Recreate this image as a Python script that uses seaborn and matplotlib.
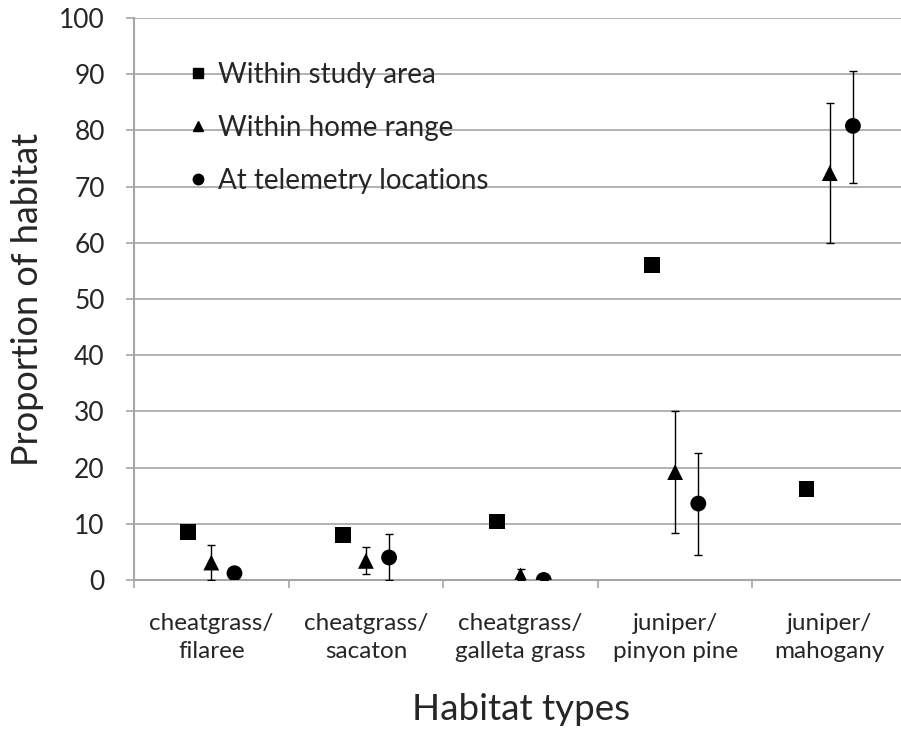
import numpy as np
import pandas as pd
import matplotlib
matplotlib.use("Agg")
import matplotlib.pyplot as plt
import seaborn as sns

# valeurs
habitats = ["cheatgrass/\nfilaree", "cheatgrass/\nsacaton", "cheatgrass/\ngalleta grass",
            "juniper/\npinyon pine", "juniper/\nmahogany"]
series = ["Within study area", "Within home range", "At telemetry locations"]

study_area = [8.6, 8.0, 10.4, 56.0, 16.2]

home_range = [3.1, 3.4, 0.8, 19.2, 72.4]
home_low = [0.0, 1.1, 0.0, 8.3, 60.0]
home_high = [6.3, 5.9, 1.9, 30.1, 84.8]

telemetry = [1.2, 4.0, 0.0, 13.6, 80.8]
telem_low = [0.4, 0.0, 0.0, 4.4, 70.6]
telem_high = [2.0, 8.2, 0.0, 22.6, 90.6]

markers = {"Within study area": "s", "Within home range": "^", "At telemetry locations": "o"}
offsets = {"Within study area": -0.15, "Within home range": 0.0, "At telemetry locations": 0.15}

rows = []
for name, vals in zip(series, [study_area, home_range, telemetry]):
    for i, v in enumerate(vals):
        rows.append({"serie": name, "idx": i, "x": i + offsets[name], "valeur": v})
df = pd.DataFrame(rows)

sns.set_style("white")
plt.rcParams["font.family"] = ["Lato", "DejaVu Sans"]

fig = plt.figure(figsize=(9.01, 7.31), dpi=100)
ax = fig.add_axes([0.1487, 0.2066, 1.0067 - 0.1487, 0.9754 - 0.2066])

# barres d'erreur
for name, vals, lo, hi in [("Within home range", home_range, home_low, home_high),
                           ("At telemetry locations", telemetry, telem_low, telem_high)]:
    v = np.array(vals)
    yerr = [v - np.array(lo), np.array(hi) - v]
    ax.errorbar(np.arange(len(v)) + offsets[name], v, yerr=yerr, fmt="none",
                ecolor="black", elinewidth=1.0, capsize=3, capthick=1.0, zorder=3)

sns.scatterplot(data=df, x="x", y="valeur", style="serie", markers=markers,
                style_order=series, color="black", s=130, edgecolor="black",
                linewidth=0, ax=ax, zorder=4, legend=False)

# légende
handles = [plt.Line2D([], [], marker=markers[n], color="black", linestyle="none",
                      markersize=7.5) for n in series]
leg = ax.legend(handles, series, loc="upper left", bbox_to_anchor=(0.06, 0.942),
                frameon=False, fontsize=20, labelspacing=0.97, handlelength=0.5,
                handletextpad=0.45, borderaxespad=0)

ax.set_xlim(-0.5, 4.5)
ax.set_ylim(0, 100)
ax.set_yticks(np.arange(0, 101, 10))
ax.yaxis.grid(True, color="#a6a6a6", linewidth=1.2)
ax.set_axisbelow(True)

ax.set_xticks(np.arange(-0.5, 4.6, 1.0))
ax.set_xticklabels([])
ax.set_xticks(np.arange(5), minor=True)
ax.set_xticklabels(habitats, minor=True, fontsize=17.5, linespacing=1.4)
ax.tick_params(axis="x", which="major", direction="out", length=6, width=1.2, color="#a6a6a6", bottom=True)
ax.tick_params(axis="x", which="minor", length=0, pad=24)
ax.tick_params(axis="y", direction="out", length=6, width=1.2, color="#a6a6a6", left=True,
               labelsize=19, pad=15)

for s in ["top", "right"]:
    ax.spines[s].set_visible(False)
for s in ["left", "bottom"]:
    ax.spines[s].set_color("#a6a6a6")
    ax.spines[s].set_linewidth(1.5)

ax.set_xlabel("Habitat types", fontsize=26.5, labelpad=22)
ax.set_ylabel("Proportion of habitat", fontsize=26, labelpad=11)

fig.savefig("out.png", dpi=100)
plt.close()
